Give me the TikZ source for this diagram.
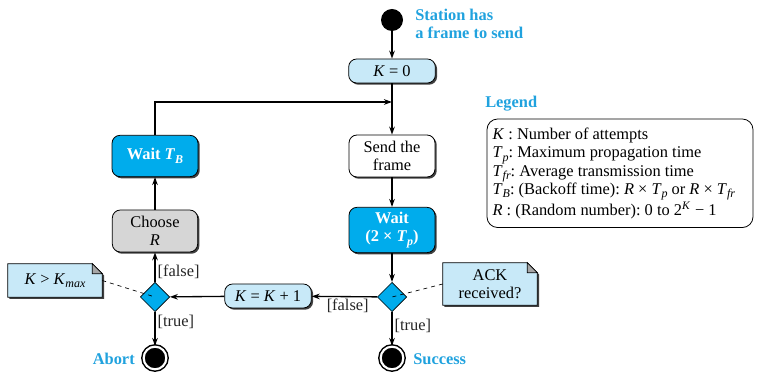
\documentclass[tikz,border=0pt]{standalone}
\usepackage{fontspec}
\setmainfont{Liberation Serif}
\usetikzlibrary{shapes.geometric,arrows.meta,shadows,backgrounds}
\definecolor{cyanbox}{RGB}{0,172,236}
\definecolor{titlecyan}{RGB}{32,162,222}
\definecolor{lightblue}{RGB}{200,233,248}
\definecolor{graybox}{RGB}{214,214,214}
\newcommand\basefnt{\fontsize{12.3}{13.8}\selectfont\frenchspacing}
\newcommand\isub[2]{\textit{#1}\raisebox{-0.45ex}{\fontsize{9}{9}\selectfont\textit{#2}}}
\tikzset{
  shad/.style={drop shadow={shadow xshift=1.3pt, shadow yshift=-1.3pt, fill=black!75, opacity=1}},
  box/.style={rectangle, rounded corners=6pt, draw=black, line width=0.6pt, align=center, inner sep=1pt, shad},
  dia/.style={diamond, aspect=1, fill=cyanbox, draw=black, line width=0.5pt, minimum size=22pt, inner sep=0pt},
  fin/.style={circle, fill=black, draw=black, double=white, double distance=1.6pt, line width=1.1pt, minimum size=17pt, inner sep=0pt},
  title/.style={text=titlecyan, font=\basefnt\bfseries, inner sep=0pt},
  boldbox/.style={box, fill=cyanbox, text=white, font=\basefnt\bfseries},
  arr/.style={line width=1pt, -{Stealth[length=6pt,width=4.2pt]}},
  lbl/.style={text=black!85, inner sep=1.5pt},
  notetext/.style={align=center, inner sep=0pt},
  notebg/.style={fill=lightblue, draw=black, line width=0.5pt, shad},
}
\begin{document}
\begin{tikzpicture}[x=0.75pt,y=-0.75pt,font=\basefnt]
\useasboundingbox (0,0) rectangle (767,373);

% start
\node[circle, fill=black, minimum size=16.5pt, inner sep=0pt] (start) at (392,20) {};
\node[title, anchor=west, align=left] (stt) at (415,24) {Station has\\a frame to send};

% main boxes
\node[box, fill=lightblue, minimum width=65pt, minimum height=18pt] (k0) at (392,71) {\textit{K} = 0};
\coordinate (J) at (392,102);
\node[box, fill=white, minimum width=64.5pt, minimum height=31.5pt] (send) at (392,156) {Send the\\frame};
\node[boldbox, minimum width=64.5pt, minimum height=31pt] (wtb) at (155,156) {Wait \isub{T}{B}};
\node[box, fill=graybox, minimum width=64pt, minimum height=31.5pt] (choose) at (155,231) {Choose\\\textit{R}};
\node[boldbox, minimum width=64.5pt, minimum height=34pt] (wait2) at (392,230) {Wait\\(2 × \isub{T}{p})};

% decisions
\node[dia] (d1) at (392,297) {};
\node[dia] (d2) at (155,297) {};
\node[box, fill=lightblue, minimum width=65pt, minimum height=18pt] (kinc) at (268,296) {\textit{K} = \textit{K} + 1};

% finals
\node[fin] (abort) at (155,358) {};
\node[fin] (succ) at (392,358) {};
\node[title, anchor=east] (abt) at (135,359) {Abort};
\node[title, anchor=west] (sct) at (413,359) {Success};

% notes
\node[notetext, minimum width=70.5pt, minimum height=24.75pt] (nk) at (55,280.5) {\textit{K} > \isub{K}{max}};
\node[notetext, minimum width=70.5pt, minimum height=31.5pt] (na) at (490,284) {ACK\\received?};
\begin{scope}[on background layer]
\path[notebg] (nk.south west) -- (nk.north west) -- ([xshift=-7.5pt]nk.north east) -- ([yshift=-7.5pt]nk.north east) -- (nk.south east) -- cycle;
\filldraw[fill=black!35, line width=0.5pt] ([xshift=-7.5pt]nk.north east) -- ([xshift=-7.5pt,yshift=-7.5pt]nk.north east) -- ([yshift=-7.5pt]nk.north east) -- cycle;
\path[notebg] (na.south west) -- (na.north west) -- ([xshift=-7.5pt]na.north east) -- ([yshift=-7.5pt]na.north east) -- (na.south east) -- cycle;
\filldraw[fill=black!35, line width=0.5pt] ([xshift=-7.5pt]na.north east) -- ([xshift=-7.5pt,yshift=-7.5pt]na.north east) -- ([yshift=-7.5pt]na.north east) -- cycle;
\end{scope}
\draw[dashed, line width=0.5pt] (nk.east) -- (d2.center);
\draw[dashed, line width=0.5pt] (na.west) -- (d1.center);

% legend
\node[title, anchor=west] (lgt) at (485,104) {Legend};
\node[align=left, anchor=north west, inner xsep=4pt, minimum height=81pt] (leg) at (487,119) {%
\textit{K} : Number of attempts\\
\isub{T}{p}: Maximum propagation time\\
\isub{T}{fr}: Average transmission time\\
\isub{T}{B}: (Backoff time): \textit{R} × \isub{T}{p} or \textit{R} × \isub{T}{fr}\\
\textit{R} : (Random number): 0 to 2\textsuperscript{\textit{K}} − 1};
\coordinate (legR) at (753,0);
\draw[rounded corners=8pt, line width=0.6pt] (leg.north west) rectangle (leg.south west -| legR);

% connectors
\draw[arr] (start) -- (k0);
\draw[arr] (k0) -- (send);
\draw[arr] (wtb.north) |- (J);
\draw[arr] (send) -- (wait2);
\draw[arr] (wait2) -- (d1);
\draw[arr] (d1) -- node[lbl, below, pos=0.45] {[false]} (kinc);
\draw[arr] (kinc) -- (d2);
\draw[arr] (d2) -- node[lbl, right, pos=0.35] {[false]} (choose);
\draw[arr] (choose) -- (wtb);
\draw[arr] (d2) -- node[lbl, right, pos=0.3] {[true]} (abort);
\draw[arr] (d1) -- node[lbl, right, pos=0.42] {[true]} (succ);
\end{tikzpicture}
\end{document}
